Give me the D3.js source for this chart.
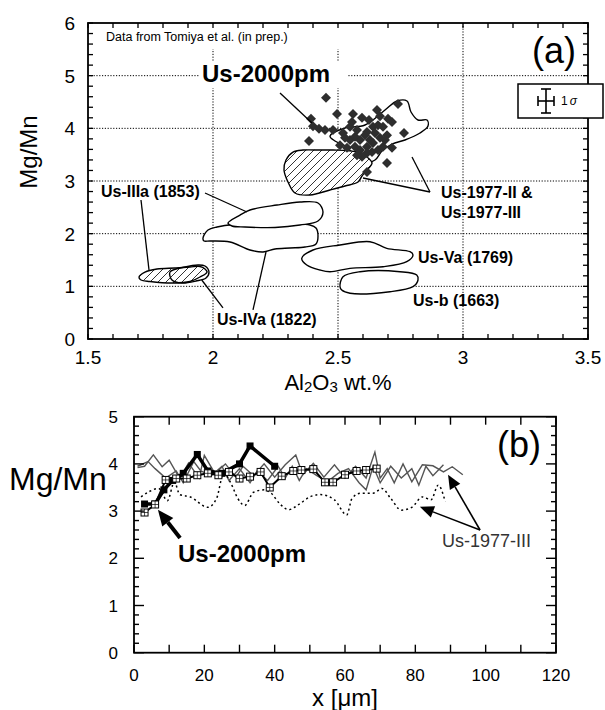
<!DOCTYPE html>
<html><head><meta charset="utf-8">
<script src="https://cdn.jsdelivr.net/npm/d3@7"></script>
<style>body{margin:0;background:#fff}svg{display:block}text{font-family:"Liberation Sans",Arial,Helvetica,sans-serif}</style>
</head><body><svg id="c" width="605" height="710"></svg>
<script>
// ---------- Panel (a) data ----------
const alTicks=[1.5,2,2.5,3,3.5];
const alTickLabels=["1.5","2","2.5","3","3.5"];
const mgTicksA=[0,1,2,3,4,5,6];
const mgTickLabelsA=["0","1","2","3","4","5","6"];
const gridAl=[2,2.5,3];
const gridMgA=[1,2,3,4,5];
// Us-2000pm plagioclase points [Al2O3, Mg/Mn]
const us2000Al=[2.452,2.496,2.392,2.40,2.424,2.448,2.48,2.384,2.56,2.596,2.656,2.668,2.70,2.74,2.716,2.764,2.52,2.548,2.576,2.616,2.64,2.68,2.548,2.588,2.628,2.668,2.696,2.508,2.536,2.588,2.616,2.64,2.68,2.716,2.596,2.616,2.636,2.696,2.616,2.568,2.608,2.648,2.528,2.568,2.66,2.688,2.556,2.576,2.66,2.624];
const us2000Mg=[4.58,4.27,4.18,4.04,3.99,3.97,3.97,3.76,4.27,4.20,4.35,4.23,4.18,4.46,4.12,3.91,3.91,4.03,3.97,3.93,4.03,4.03,3.78,3.78,3.78,3.82,3.87,3.68,3.63,3.59,3.65,3.72,3.65,3.63,3.46,3.53,3.55,3.34,3.17,3.84,3.87,3.91,3.82,3.65,3.59,3.78,4.12,3.49,4.06,4.16];
// field outlines [Al2O3, Mg/Mn]
const us1977II=[[2.468,3.854],[2.528,4.006],[2.608,4.063],[2.688,4.348],[2.736,4.519],[2.776,4.519],[2.792,4.31],[2.82,4.158],[2.856,4.158],[2.86,4.044],[2.828,3.911],[2.768,3.778],[2.716,3.702],[2.676,3.569],[2.648,3.399],[2.608,3.342],[2.568,3.493],[2.528,3.664],[2.488,3.759]];
const us1977III=[[2.292,3.399],[2.32,3.55],[2.36,3.588],[2.428,3.588],[2.48,3.588],[2.576,3.55],[2.616,3.456],[2.636,3.342],[2.616,3.209],[2.596,3.095],[2.58,2.981],[2.528,2.905],[2.468,2.829],[2.388,2.734],[2.328,2.772],[2.30,2.981],[2.284,3.209]];
const usIIIaMain=[[2.06,2.202],[2.108,2.354],[2.148,2.449],[2.256,2.544],[2.348,2.601],[2.42,2.582],[2.44,2.411],[2.42,2.24],[2.348,2.164],[2.248,2.117],[2.128,2.126],[2.076,2.145]];
const usIVaMain=[[1.96,1.918],[1.98,2.069],[2.016,2.126],[2.176,2.202],[2.308,2.183],[2.388,2.164],[2.412,2.107],[2.42,1.956],[2.412,1.804],[2.368,1.747],[2.308,1.728],[2.248,1.709],[2.2,1.652],[2.148,1.69],[2.068,1.842],[1.988,1.861],[1.964,1.861]];
const usIIIaSmall=[[1.704,1.177],[1.728,1.272],[1.776,1.329],[1.848,1.348],[1.908,1.367],[1.948,1.377],[1.968,1.329],[1.976,1.272],[1.948,1.177],[1.908,1.092],[1.84,1.063],[1.748,1.092],[1.712,1.12]];
const usIVaSmall=[[1.828,1.272],[1.888,1.367],[1.94,1.405],[1.968,1.386],[1.984,1.272],[1.972,1.158],[1.932,1.101],[1.876,1.063],[1.836,1.12]];
const usVa=[[2.355,1.532],[2.40,1.69],[2.508,1.785],[2.628,1.847],[2.695,1.722],[2.788,1.657],[2.80,1.595],[2.775,1.468],[2.68,1.373],[2.548,1.342],[2.468,1.278],[2.428,1.31],[2.375,1.405]];
const usB=[[2.508,0.993],[2.52,1.183],[2.588,1.278],[2.748,1.278],[2.815,1.215],[2.82,1.12],[2.80,0.993],[2.708,0.898],[2.548,0.868],[2.515,0.93]];
// leader lines [[x1,y1],[x2,y2]] in data units
const leadersA=[
 [[2.268,4.67],[2.396,4.10]],
 [[2.868,2.791],[2.796,3.456]],
 [[2.868,2.791],[2.60,3.057]],
 [[1.968,2.772],[2.136,2.411]],
 [[1.712,2.639],[1.744,1.31]],
 [[2.04,0.589],[1.955,1.12]],
 [[2.16,0.551],[2.212,1.652]]
];

// ---------- Panel (b) data ----------
const xTicksB=[0,20,40,60,80,100,120];
const xTickLabelsB=["0","20","40","60","80","100","120"];
const mgTicksB=[0,1,2,3,4,5];
const mgTickLabelsB=["0","1","2","3","4","5"];
const pmX=[3,6,8.5,11,14,18,21,25,30,33,40];
const pmY=[3.15,3.15,3.45,3.65,3.8,4.2,3.85,3.8,4.0,4.38,3.95];
const sqX=[3,6,9,12,15,18,21,24,27,30,33,36,38.6,42,45.3,47.6,51,54.3,56.6,60,63.3,66,69];
const sqY=[2.97,3.14,3.66,3.69,3.69,3.76,3.8,3.76,3.83,3.69,3.73,3.83,3.5,3.74,3.85,3.87,3.89,3.61,3.61,3.77,3.85,3.87,3.9];
const grayAX=[1,3,5.5,8,10,13,15.5,18.5,20,23,26,29,31,34,37,40,43,46,48,51,54,57,60,63,66,68.5,70,72,74,76.5,79,82,85,88,90.5,93.5];
const grayAY=[3.92,3.95,4.19,3.94,4.08,3.69,4.02,3.7,4.18,3.8,4.0,3.72,3.95,3.75,4.0,3.72,3.98,4.19,3.77,4.01,3.72,3.98,3.7,3.95,3.7,4.25,3.7,3.9,3.6,4.0,3.62,3.98,3.96,3.83,3.94,3.77];
const grayBX=[1,4,6,9,12,14,17,19,22,25,27,30,33,35,38,41,43,45,47,49,52,55,58,61,64,66,68,70,73,76,79,81,83,85,88];
const grayBY=[3.95,4.05,3.9,3.7,3.85,3.6,4.05,3.85,3.75,3.95,3.65,3.9,3.6,3.85,3.65,3.95,3.7,3.95,3.65,3.9,3.75,3.62,3.8,3.9,3.6,3.45,3.95,3.6,3.95,3.7,3.9,3.55,3.95,3.75,3.98];
const dotX=[2,4.5,7,9.5,11.5,13,16,21,23.5,25.5,27.5,29.5,31.5,34,37,39,41.5,44,47,50,53,57,60.5,62,64.5,68,70.5,73,76,79,82,84.5,86.5,88.5];
const dotY=[3.3,3.42,3.48,3.22,3.62,3.35,3.3,3.08,3.27,3.8,3.6,3.27,3.12,3.4,3.45,3.38,3.15,3.03,3.15,3.3,3.35,3.24,2.92,3.27,3.38,3.38,3.48,3.27,3.02,3.08,3.3,3.24,3.55,3.2];
// arrows [[from],[tip]] in data units
const arrowsB=[
 [[13.1,2.43],[6.8,3.03]],
 [[98.4,2.60],[89.3,3.77]],
 [[98.4,2.60],[81.3,3.09]]
];

const svg=d3.select("#c");

// ================= Panel (a) =================
const xA=d3.scaleLinear().domain([1.5,3.5]).range([88,588]);
const yA=d3.scaleLinear().domain([0,6]).range([339,23]);
const gA=svg.append("g");

const defs=svg.append("defs");
const pat=defs.append("pattern").attr("id","hatch").attr("patternUnits","userSpaceOnUse").attr("width",8).attr("height",8);
pat.append("rect").attr("width",8).attr("height",8).attr("fill","#fff");
pat.append("path").attr("d","M-2,10 L10,-2 M-2,2 L2,-2 M6,10 L10,6").attr("stroke","#000").attr("stroke-width",0.8);

// grid
gA.selectAll(".gv").data(gridAl).join("line")
 .attr("x1",d=>xA(d)).attr("x2",d=>xA(d)).attr("y1",yA(6)).attr("y2",yA(0))
 .attr("stroke","#000").attr("stroke-width",1).attr("stroke-dasharray","1.2,1.6");
gA.selectAll(".gh").data(gridMgA).join("line")
 .attr("x1",xA(1.5)).attr("x2",xA(3.5)).attr("y1",d=>yA(d)).attr("y2",d=>yA(d))
 .attr("stroke","#000").attr("stroke-width",1).attr("stroke-dasharray","1.2,1.6");

// white text boxes
gA.append("rect").attr("x",98).attr("y",25).attr("width",242).attr("height",24).attr("fill","#fff");
gA.append("rect").attr("x",200).attr("y",62).attr("width",147).attr("height",26).attr("fill","#fff");

const closed=d3.line().x(d=>xA(d[0])).y(d=>yA(d[1])).curve(d3.curveCatmullRomClosed.alpha(0.5));
function shape(data,fill){
 gA.append("path").attr("d",closed(data)).attr("fill",fill).attr("stroke","#000").attr("stroke-width",1.4);
}
shape(usIVaMain,"#fff");
shape(usIIIaMain,"#fff");
shape(usVa,"#fff");
shape(usB,"#fff");
shape(usIIIaSmall,"url(#hatch)");
shape(usIVaSmall,"none");
shape(us1977II,"#fff");
shape(us1977III,"url(#hatch)");

// diamonds
const dsym=d3.symbol().type(d3.symbolSquare).size(50);
gA.selectAll(".dm").data(d3.range(us2000Al.length)).join("path")
 .attr("d",dsym)
 .attr("transform",i=>`translate(${xA(us2000Al[i])},${yA(us2000Mg[i])}) rotate(45)`)
 .attr("fill","#2e2e2e");

// leaders
gA.selectAll(".ld").data(leadersA).join("line")
 .attr("x1",d=>xA(d[0][0])).attr("y1",d=>yA(d[0][1])).attr("x2",d=>xA(d[1][0])).attr("y2",d=>yA(d[1][1]))
 .attr("stroke","#000").attr("stroke-width",1.3);

// labels
function txt(g,x,y,s,size,weight,anchor,fill){
 return g.append("text").attr("x",x).attr("y",y).text(s).attr("font-size",size)
  .attr("font-weight",weight||"normal").attr("text-anchor",anchor||"start").attr("fill",fill||"#000");
}
txt(gA,106,41,"Data from Tomiya et al. (in prep.)",12.5);
txt(gA,202,82,"Us-2000pm",24,"bold");
txt(gA,101,197,"Us-IIIa (1853)",16,"bold");
txt(gA,217,325,"Us-IVa (1822)",16,"bold");
txt(gA,418,263,"Us-Va (1769)",16,"bold");
txt(gA,413,306,"Us-b (1663)",16,"bold");
txt(gA,441,198,"Us-1977-II &",16,"bold");
txt(gA,441,218,"Us-1977-III",16,"bold");
txt(gA,532,63,"(a)",36);

// frame & ticks
gA.append("rect").attr("x",xA(1.5)).attr("y",yA(6)).attr("width",xA(3.5)-xA(1.5)).attr("height",yA(0)-yA(6))
 .attr("fill","none").attr("stroke","#000").attr("stroke-width",1.8);
const minorAl=d3.range(15,36).map(v=>v/10);
const minorMg=d3.range(0,31).map(v=>v/5);
gA.selectAll(".tb").data(minorAl).join("line").attr("x1",d=>xA(d)).attr("x2",d=>xA(d)).attr("y1",yA(0)).attr("y2",yA(0)-5).attr("stroke","#000").attr("stroke-width",1.3);
gA.selectAll(".tt").data(minorAl).join("line").attr("x1",d=>xA(d)).attr("x2",d=>xA(d)).attr("y1",yA(6)).attr("y2",yA(6)+5).attr("stroke","#000").attr("stroke-width",1.3);
gA.selectAll(".tl").data(minorMg).join("line").attr("y1",d=>yA(d)).attr("y2",d=>yA(d)).attr("x1",xA(1.5)).attr("x2",xA(1.5)+5).attr("stroke","#000").attr("stroke-width",1.3);
gA.selectAll(".tr").data(minorMg).join("line").attr("y1",d=>yA(d)).attr("y2",d=>yA(d)).attr("x1",xA(3.5)).attr("x2",xA(3.5)-5).attr("stroke","#000").attr("stroke-width",1.3);
gA.selectAll(".xl").data(alTicks).join("text").attr("x",d=>xA(d)).attr("y",364).text((d,i)=>alTickLabels[i])
 .attr("font-size",19).attr("text-anchor","middle");
gA.selectAll(".yl").data(mgTicksA).join("text").attr("x",75).attr("y",d=>yA(d)).attr("dy","0.36em").text((d,i)=>mgTickLabelsA[i])
 .attr("font-size",19).attr("text-anchor","end");
const xlab=gA.append("text").attr("x",338).attr("y",390).attr("text-anchor","middle").attr("font-size",22);
xlab.append("tspan").text("Al");
xlab.append("tspan").text("2").attr("font-size",15).attr("dy",2);
xlab.append("tspan").text("O").attr("dy",-2);
xlab.append("tspan").text("3").attr("font-size",15).attr("dy",2);
xlab.append("tspan").text(" wt.%").attr("dy",-2);
gA.append("text").attr("transform","translate(37,152) rotate(-90)").attr("text-anchor","middle").attr("font-size",24).text("Mg/Mn");

// 1 sigma box
gA.append("rect").attr("x",518).attr("y",84).attr("width",85).attr("height",34).attr("fill","#fff").attr("stroke","#000").attr("stroke-width",1.5);
const eb=gA.append("g").attr("stroke","#000").attr("stroke-width",1.6);
eb.append("line").attr("x1",538).attr("x2",554).attr("y1",101).attr("y2",101);
eb.append("line").attr("x1",538).attr("x2",538).attr("y1",96).attr("y2",106);
eb.append("line").attr("x1",554).attr("x2",554).attr("y1",96).attr("y2",106);
eb.append("line").attr("x1",546).attr("x2",546).attr("y1",89).attr("y2",113);
eb.append("line").attr("x1",541).attr("x2",551).attr("y1",89).attr("y2",89);
eb.append("line").attr("x1",541).attr("x2",551).attr("y1",113).attr("y2",113);
const sg=gA.append("text").attr("x",561).attr("y",105).attr("font-size",12);
sg.append("tspan").text("1");
sg.append("tspan").text("σ").attr("font-style","italic").attr("dx",2);

// ================= Panel (b) =================
const xB=d3.scaleLinear().domain([0,120]).range([134,556]);
const yB=d3.scaleLinear().domain([0,5]).range([652.7,416.7]);
const gB=svg.append("g");
const lineB=d3.line().x(d=>xB(d[0])).y(d=>yB(d[1]));
const zipB=(xs,ys)=>xs.map((x,i)=>[x,ys[i]]);

gB.append("path").attr("d",lineB(zipB(grayAX,grayAY))).attr("fill","none").attr("stroke","#555").attr("stroke-width",1.4);
gB.append("path").attr("d",lineB(zipB(grayBX,grayBY))).attr("fill","none").attr("stroke","#555").attr("stroke-width",1.4);
gB.append("path").attr("d",lineB.curve(d3.curveMonotoneX)(zipB(dotX,dotY))).attr("fill","none").attr("stroke","#000").attr("stroke-width",1.5).attr("stroke-dasharray","2,3");
lineB.curve(d3.curveLinear);
gB.append("path").attr("d",lineB(zipB(sqX,sqY))).attr("fill","none").attr("stroke","#000").attr("stroke-width",2);
gB.append("path").attr("d",lineB(zipB(pmX,pmY))).attr("fill","none").attr("stroke","#000").attr("stroke-width",3.5).attr("stroke-linejoin","miter");
gB.selectAll(".pm").data(zipB(pmX,pmY)).join("rect")
 .attr("x",d=>xB(d[0])-3.5).attr("y",d=>yB(d[1])-3.5).attr("width",7).attr("height",7).attr("fill","#000");
const sqG=gB.selectAll(".sq").data(zipB(sqX,sqY)).join("g").attr("transform",d=>`translate(${xB(d[0])},${yB(d[1])})`);
sqG.append("rect").attr("x",-3.5).attr("y",-3.5).attr("width",7).attr("height",7).attr("fill","#fff").attr("stroke","#000").attr("stroke-width",1);
sqG.append("path").attr("d","M-3.5,0 H3.5 M0,-3.5 V3.5").attr("stroke","#000").attr("stroke-width",0.7);

// arrows
arrowsB.forEach((a,i)=>{
 const x1=xB(a[0][0]),y1=yB(a[0][1]),x2=xB(a[1][0]),y2=yB(a[1][1]);
 const ang=Math.atan2(y2-y1,x2-x1);
 const L=i===0?16:14, W=i===0?7:6;
 const bx=x2-L*Math.cos(ang), by=y2-L*Math.sin(ang);
 gB.append("line").attr("x1",x1).attr("y1",y1).attr("x2",bx).attr("y2",by).attr("stroke","#000").attr("stroke-width",i===0?4:1.6);
 const px=-Math.sin(ang)*W, py=Math.cos(ang)*W;
 gB.append("path").attr("d",`M${x2},${y2}L${bx+px},${by+py}L${bx-px},${by-py}Z`).attr("fill","#000");
});
txt(gB,178,562,"Us-2000pm",24,"bold");
txt(gB,442,547,"Us-1977-III",18,"normal","start","#333");
txt(gB,497,457,"(b)",36);

// frame & ticks
gB.append("rect").attr("x",xB(0)).attr("y",yB(5)).attr("width",xB(120)-xB(0)).attr("height",yB(0)-yB(5))
 .attr("fill","none").attr("stroke","#000").attr("stroke-width",1.8);
const tB=d3.range(0,121,10);
gB.selectAll(".bb").data(tB).join("line").attr("x1",d=>xB(d)).attr("x2",d=>xB(d)).attr("y1",yB(0)).attr("y2",yB(0)-8).attr("stroke","#000").attr("stroke-width",1.4);
gB.selectAll(".bt").data(tB).join("line").attr("x1",d=>xB(d)).attr("x2",d=>xB(d)).attr("y1",yB(5)).attr("y2",yB(5)+8).attr("stroke","#000").attr("stroke-width",1.4);
const mB=d3.range(0,26).map(v=>v/5);
gB.selectAll(".bl").data(mB).join("line").attr("y1",d=>yB(d)).attr("y2",d=>yB(d)).attr("x1",xB(0)).attr("x2",(d)=>xB(0)+(Math.abs(d-Math.round(d))<1e-6?10:5)).attr("stroke","#000").attr("stroke-width",1.4);
gB.selectAll(".br").data(mB).join("line").attr("y1",d=>yB(d)).attr("y2",d=>yB(d)).attr("x1",xB(120)).attr("x2",(d)=>xB(120)-(Math.abs(d-Math.round(d))<1e-6?10:5)).attr("stroke","#000").attr("stroke-width",1.4);
gB.selectAll(".xlb").data(xTicksB).join("text").attr("x",d=>xB(d)).attr("y",681).text((d,i)=>xTickLabelsB[i]).attr("font-size",17).attr("text-anchor","middle");
gB.selectAll(".ylb").data(mgTicksB).join("text").attr("x",118).attr("y",d=>yB(d)).attr("dy","0.36em").text((d,i)=>mgTickLabelsB[i]).attr("font-size",17).attr("text-anchor","end");
txt(gB,345,706,"x [μm]",24,"normal","middle");
txt(gB,9,490,"Mg/Mn",32);
</script></body></html>
